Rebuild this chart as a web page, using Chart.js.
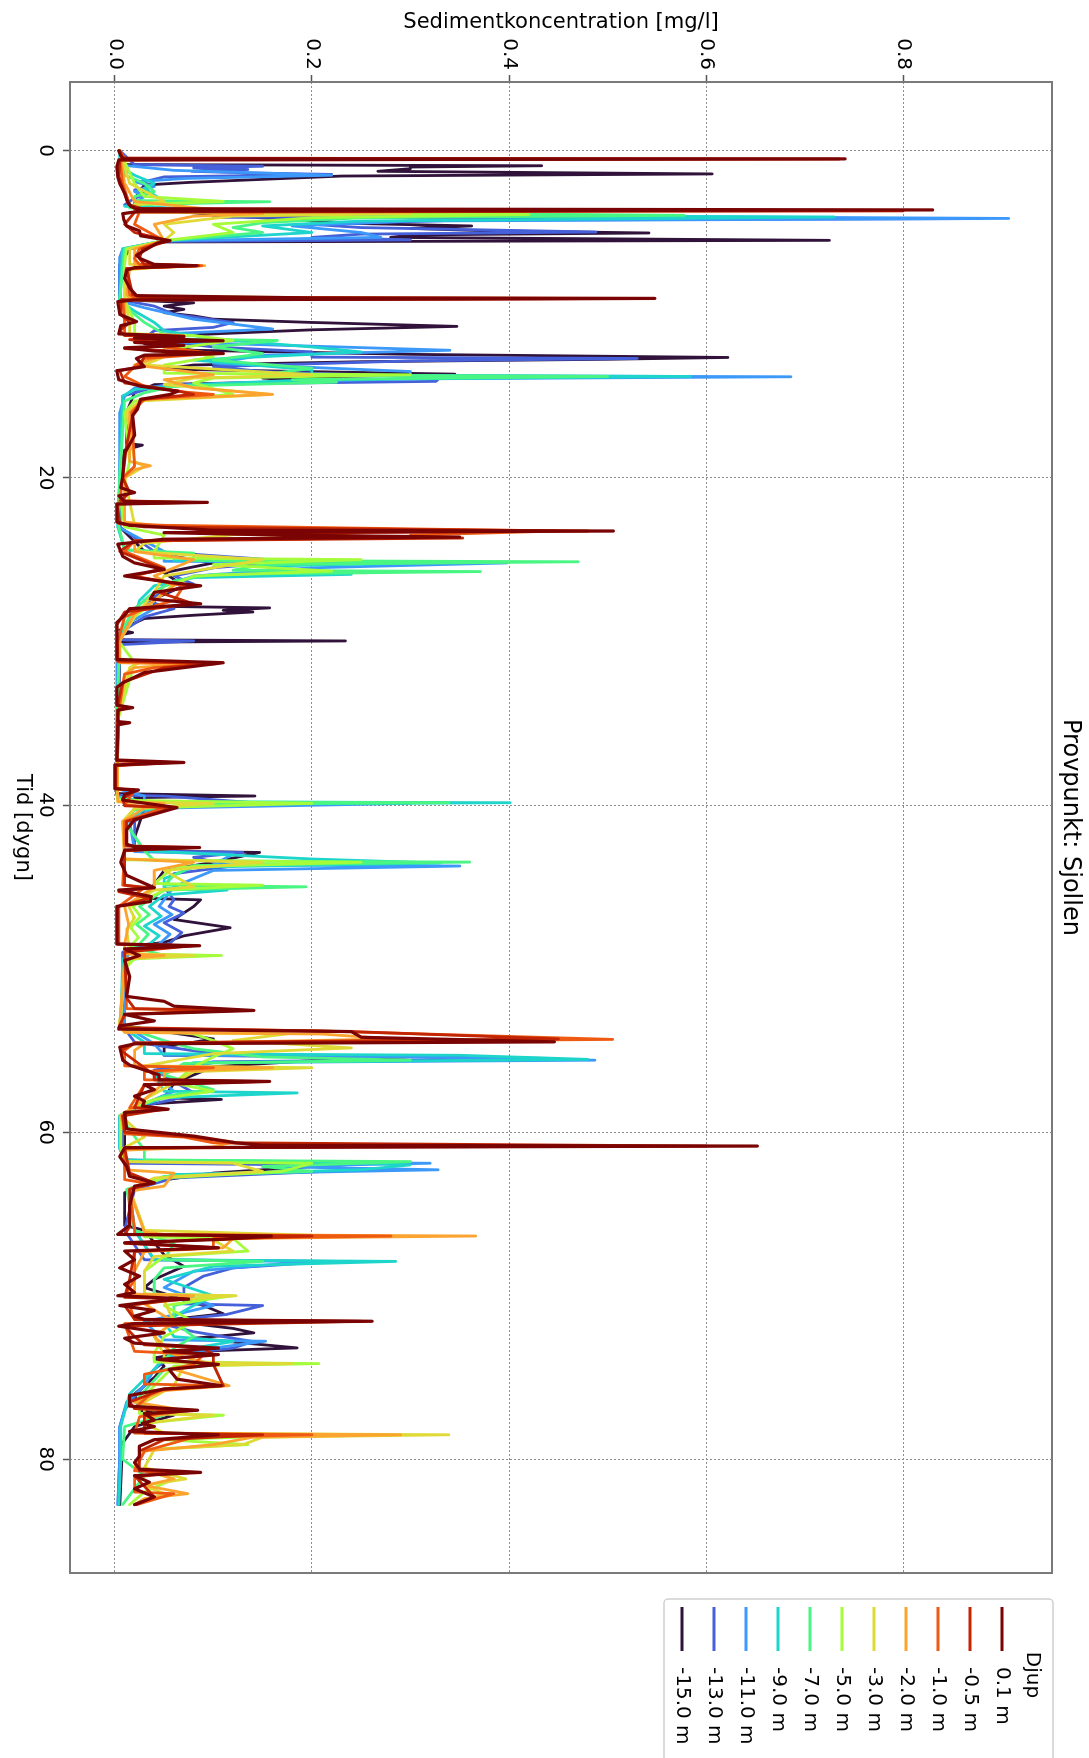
<!DOCTYPE html>
<html><head><meta charset="utf-8">
<script src="https://cdn.jsdelivr.net/npm/chart.js@4"></script>
<style>
html,body{margin:0;padding:0;background:#fff;overflow:hidden;}
#wrap{position:absolute;left:0;top:0;width:1089px;height:1758px;overflow:hidden;background:#fff;}
#rot{position:absolute;left:0;top:0;width:1758px;height:1089px;transform-origin:0 0;transform:translate(1089px,0) rotate(90deg);}
</style></head><body>
<div id="wrap"><div id="rot"><canvas id="c" width="1758" height="1089"></canvas></div></div>
<script>
const depthLabels = ['0.1 m','-0.5 m','-1.0 m','-2.0 m','-3.0 m','-5.0 m','-7.0 m','-9.0 m','-11.0 m','-13.0 m','-15.0 m'];
const seriesColors = ['#7a0403','#c12503','#ee5a12','#fca430','#dfda36','#a4fc3b','#49f683','#1dd5cb','#3c99f9','#4560d8','#30123b'];
const timeTicks = [0,20,40,60,80];
const concTicks = [0,0.2,0.4,0.6,0.8];

const d_0_1 = [[0,0.004],[0.3,0.006],[0.45,0.008],[0.5,0.741],[0.56,0.004],[1.0,0.002],[1.6,0.003],[2.0,0.005],[2.6,0.01],[3.0,0.012],[3.4,0.016],[3.55,0.022],[3.62,0.830],[3.7,0.025],[3.85,0.008],[4.2,0.009],[4.6,0.012],[4.9,0.025],[5.2,0.026],[5.5,0.056],[5.65,0.043],[6.1,0.03],[6.4,0.022],[6.6,0.026],[6.95,0.04],[7.03,0.083],[7.15,0.02],[7.3,0.012],[7.8,0.01],[8.4,0.015],[8.86,0.022],[9.0,0.2],[9.03,0.548],[9.12,0.02],[9.23,0.003],[10.0,0.005],[10.45,0.022],[10.7,0.006],[11.2,0.004],[11.35,0.07],[11.45,0.02],[11.62,0.11],[11.72,0.02],[11.9,0.07],[12.05,0.01],[12.25,0.04],[12.4,0.11],[12.5,0.03],[12.7,0.022],[13.2,0.03],[13.45,0.002],[14.0,0.004],[14.4,0.026],[14.7,0.064],[14.9,0.056],[15.2,0.026],[15.8,0.023],[16.2,0.018],[17.4,0.02],[18.5,0.01],[19.9,0.008],[20.6,0.006],[20.9,0.02],[21.1,0.004],[21.45,0.01],[21.5,0.094],[21.6,0.002],[22.7,0.002],[22.9,0.015],[23.2,0.1],[23.25,0.506],[23.35,0.05],[23.5,0.17],[23.62,0.35],[23.75,0.05],[24.05,0.003],[24.8,0.008],[25.2,0.02],[25.6,0.05],[26.0,0.01],[26.4,0.057],[26.6,0.087],[27.0,0.04],[27.4,0.036],[27.7,0.087],[28.0,0.015],[28.4,0.01],[28.85,0.002],[31.1,0.002],[31.3,0.11],[31.6,0.07],[31.9,0.03],[32.5,0.009],[32.8,0.002],[33.9,0.002],[34.05,0.018],[34.2,0.003],[34.9,0.003],[34.97,0.015],[35.1,0.003],[37.25,0.002],[37.4,0.07],[37.55,0.0],[39.0,0.0],[39.08,0.024],[39.35,0.01],[39.7,0.008],[40.16,0.063],[40.47,0.045],[40.9,0.02],[41.5,0.012],[42.4,0.012],[42.55,0.02],[42.6,0.086],[42.75,0.01],[43.5,0.006],[44.3,0.012],[45.06,0.04],[45.2,0.004],[45.6,0.037],[45.9,0.036],[46.2,0.002],[48.5,0.002],[48.6,0.086],[48.8,0.01],[49.2,0.025],[49.5,0.01],[50.5,0.015],[51.7,0.012],[52.0,0.05],[52.3,0.06],[52.56,0.141],[52.8,0.01],[53.2,0.04],[53.5,0.005],[53.7,0.004],[53.85,0.24],[54.2,0.25],[54.48,0.446],[54.6,0.02],[54.8,0.005],[55.6,0.008],[55.9,0.015],[56.5,0.045],[56.8,0.045],[56.9,0.157],[57.1,0.03],[57.4,0.04],[57.8,0.02],[58.1,0.03],[58.4,0.028],[58.6,0.054],[58.8,0.01],[59.8,0.012],[60.24,0.08],[60.65,0.123],[60.8,0.15],[60.85,0.652],[60.95,0.01],[61.5,0.005],[62.1,0.012],[62.7,0.015],[63.1,0.04],[63.3,0.02],[64.5,0.015],[65.7,0.015],[66.25,0.003],[66.35,0.159],[66.55,0.11],[66.76,0.01],[67.07,0.105],[67.27,0.01],[67.8,0.02],[68.3,0.005],[68.8,0.025],[69.3,0.01],[69.8,0.02],[70.0,0.003],[70.2,0.075],[70.3,0.045],[70.6,0.005],[70.9,0.04],[71.25,0.02],[71.45,0.03],[71.56,0.261],[71.7,0.02],[71.86,0.004],[72.27,0.05],[72.6,0.01],[72.9,0.02],[73.2,0.105],[73.4,0.05],[73.6,0.105],[73.9,0.045],[74.2,0.105],[74.5,0.055],[75.1,0.063],[75.5,0.108],[75.7,0.05],[76.1,0.015],[76.75,0.015],[77.0,0.084],[77.2,0.03],[77.6,0.04],[77.8,0.028],[78.0,0.04],[78.3,0.015],[78.5,0.105],[78.8,0.04],[79.2,0.025],[79.8,0.025],[80.2,0.02],[80.6,0.025],[80.8,0.087],[81.0,0.02],[81.4,0.035],[81.8,0.02],[82.3,0.04],[82.77,0.02]];

const d_m0_5 = [[0,0.005],[0.45,0.008],[0.51,0.735],[0.57,0.005],[1.5,0.004],[2.5,0.009],[3.3,0.014],[3.58,0.03],[3.68,0.80],[3.76,0.02],[4.5,0.01],[5.0,0.02],[5.5,0.055],[6.0,0.028],[6.6,0.025],[6.95,0.03],[7.03,0.085],[7.2,0.012],[8.8,0.018],[8.98,0.03],[9.04,0.545],[9.12,0.006],[10.0,0.006],[10.5,0.015],[11.0,0.005],[11.3,0.01],[11.4,0.07],[11.55,0.015],[11.9,0.06],[12.1,0.01],[12.4,0.11],[12.55,0.03],[13.2,0.025],[13.45,0.005],[14.2,0.01],[14.7,0.065],[14.9,0.08],[15.2,0.027],[16.2,0.018],[18,0.012],[20,0.008],[20.9,0.015],[21.4,0.006],[21.5,0.08],[21.6,0.002],[22.8,0.005],[23.0,0.03],[23.25,0.48],[23.4,0.1],[23.68,0.353],[23.85,0.02],[24.5,0.005],[25.6,0.05],[26.0,0.015],[26.6,0.08],[27.0,0.045],[27.7,0.08],[28.2,0.01],[29,0.002],[31.2,0.003],[31.35,0.105],[31.6,0.05],[32.5,0.008],[33.9,0.003],[34.05,0.015],[34.2,0.003],[37.3,0.002],[37.4,0.06],[37.6,0.001],[39.0,0.001],[39.1,0.022],[39.6,0.008],[40.05,0.01],[40.16,0.06],[41,0.012],[42.5,0.012],[42.6,0.08],[42.8,0.01],[44.9,0.01],[45.06,0.035],[45.3,0.004],[45.7,0.035],[46.2,0.003],[48.5,0.003],[48.6,0.08],[49,0.01],[51.8,0.012],[52.45,0.02],[52.56,0.13],[52.8,0.01],[53.6,0.004],[53.85,0.24],[54.3,0.45],[54.55,0.02],[55,0.006],[56.5,0.04],[56.8,0.04],[56.9,0.15],[57.1,0.03],[58.5,0.02],[58.6,0.05],[59,0.008],[60,0.01],[60.3,0.08],[60.65,0.12],[60.85,0.6],[60.95,0.01],[62.5,0.015],[63.1,0.04],[63.5,0.015],[65.8,0.015],[66.25,0.01],[66.35,0.2],[66.55,0.1],[66.8,0.01],[67.07,0.105],[67.27,0.02],[69,0.015],[70.1,0.01],[70.2,0.07],[70.6,0.01],[71.45,0.02],[71.56,0.25],[71.86,0.01],[72.5,0.02],[73.0,0.03],[73.2,0.09],[73.6,0.1],[74.2,0.1],[75.5,0.11],[75.7,0.05],[76.5,0.015],[76.9,0.02],[77.0,0.08],[77.3,0.03],[78.4,0.03],[78.5,0.15],[78.8,0.05],[79.5,0.025],[80.7,0.025],[80.8,0.08],[81.0,0.02],[82.3,0.04],[82.77,0.022]];

const d_m1_0 = [[0,0.005],[0.48,0.01],[0.52,0.12],[0.58,0.005],[2,0.008],[3.3,0.015],[3.55,0.02],[3.62,0.5],[3.72,0.025],[4.5,0.02],[5.5,0.05],[6.0,0.025],[6.6,0.02],[6.95,0.025],[7.03,0.088],[7.2,0.012],[8.8,0.015],[8.98,0.02],[9.03,0.545],[9.12,0.008],[10.5,0.01],[11.3,0.01],[11.4,0.07],[11.6,0.03],[12.0,0.05],[12.4,0.1],[12.7,0.03],[13.2,0.02],[13.8,0.01],[14.4,0.03],[14.75,0.07],[14.9,0.1],[15.2,0.03],[16,0.017],[19.3,0.02],[20,0.008],[21.4,0.005],[21.5,0.05],[21.6,0.003],[22.8,0.004],[22.9,0.05],[23.25,0.45],[23.5,0.3],[23.65,0.3],[23.85,0.02],[24.5,0.01],[25.5,0.05],[26.0,0.02],[26.6,0.07],[27.5,0.06],[28,0.03],[28.5,0.01],[30,0.003],[31.25,0.003],[31.35,0.1],[31.6,0.04],[32,0.01],[35,0.002],[37.3,0.002],[37.4,0.04],[37.6,0.001],[39.0,0.001],[39.1,0.02],[40.0,0.01],[40.16,0.05],[41,0.01],[42.5,0.01],[42.6,0.06],[42.8,0.01],[44.9,0.008],[45.06,0.03],[46.2,0.004],[48.5,0.004],[48.6,0.06],[49,0.01],[52.45,0.012],[52.56,0.1],[52.8,0.01],[53.65,0.005],[53.8,0.2],[54.33,0.505],[54.55,0.02],[55,0.01],[55.95,0.01],[56.06,0.1],[56.3,0.03],[56.8,0.03],[56.9,0.12],[57.1,0.03],[58.5,0.015],[58.6,0.04],[59,0.008],[60.1,0.01],[60.3,0.07],[60.65,0.1],[60.85,0.3],[61.0,0.01],[62.9,0.01],[63.1,0.03],[63.5,0.015],[66.0,0.02],[66.25,0.02],[66.35,0.28],[66.5,0.1],[67.07,0.1],[67.3,0.02],[69,0.02],[70.0,0.01],[70.2,0.06],[70.6,0.015],[71.45,0.02],[71.56,0.15],[71.7,0.01],[73.4,0.02],[73.6,0.09],[74.2,0.08],[74.8,0.03],[75.4,0.03],[75.5,0.11],[75.8,0.04],[76.9,0.02],[77.0,0.06],[77.4,0.025],[78.4,0.02],[78.5,0.2],[78.65,0.08],[79.5,0.03],[80.7,0.02],[80.8,0.06],[81.1,0.02],[82.0,0.02],[82.1,0.06],[82.77,0.022]];

const d_m2_0 = [[0,0.005],[2,0.01],[3.1,0.02],[3.6,0.1],[3.85,0.15],[4.0,0.08],[4.5,0.04],[5.5,0.05],[6,0.02],[6.95,0.02],[7.03,0.091],[7.2,0.015],[8.8,0.012],[8.98,0.015],[9.03,0.4],[9.12,0.01],[10.5,0.01],[11.2,0.01],[11.3,0.07],[11.6,0.05],[12.3,0.07],[12.7,0.04],[13.1,0.02],[13.7,0.1],[14.0,0.05],[14.5,0.08],[14.9,0.16],[15.2,0.03],[16,0.015],[19.0,0.015],[19.26,0.036],[19.5,0.02],[20,0.01],[22.7,0.01],[22.9,0.04],[23.3,0.25],[23.6,0.2],[23.9,0.02],[24.5,0.02],[25,0.08],[25.5,0.06],[26,0.04],[26.6,0.06],[27.5,0.04],[28.3,0.02],[30,0.005],[31.3,0.005],[31.4,0.07],[31.6,0.02],[32,0.01],[35,0.002],[39.8,0.003],[39.9,0.05],[40.2,0.03],[41,0.008],[43.3,0.01],[43.5,0.08],[44,0.04],[45,0.04],[46.2,0.01],[47.3,0.014],[48.5,0.01],[49.1,0.01],[49.2,0.05],[49.4,0.01],[53.5,0.005],[53.9,0.01],[54.0,0.21],[54.3,0.28],[54.6,0.03],[55,0.02],[55.95,0.02],[56.06,0.16],[56.3,0.05],[57,0.05],[58,0.03],[59,0.006],[60,0.01],[60.3,0.08],[60.6,0.12],[60.9,0.1],[61.1,0.01],[62.3,0.01],[62.5,0.06],[63.3,0.05],[63.6,0.015],[66.1,0.03],[66.25,0.05],[66.35,0.366],[66.5,0.12],[67.07,0.11],[67.3,0.03],[68.5,0.02],[69.9,0.02],[70,0.08],[70.5,0.03],[71.6,0.06],[72.5,0.04],[73.6,0.06],[74.2,0.1],[74.5,0.06],[75.5,0.116],[75.8,0.05],[76.5,0.02],[77,0.07],[77.5,0.03],[78.4,0.03],[78.5,0.29],[78.65,0.14],[79.1,0.1],[79.5,0.03],[80.5,0.02],[81.2,0.06],[81.6,0.03],[82.1,0.074],[82.4,0.03],[82.77,0.02]];

const d_m3_0 = [[0,0.005],[2,0.015],[3.1,0.05],[3.3,0.02],[3.75,0.02],[3.85,0.3],[4.0,0.12],[4.5,0.05],[5,0.06],[5.5,0.05],[6,0.015],[6.95,0.015],[7.03,0.06],[7.3,0.01],[8.9,0.01],[9.03,0.3],[9.12,0.01],[10.5,0.015],[11.2,0.015],[11.3,0.06],[12,0.05],[12.6,0.05],[13.1,0.03],[13.7,0.2],[13.9,0.08],[14.3,0.05],[14.9,0.158],[15.3,0.025],[16,0.012],[19,0.02],[19.3,0.03],[20,0.01],[22.9,0.02],[23.3,0.15],[23.6,0.1],[24,0.03],[24.5,0.02],[25,0.15],[25.5,0.1],[26,0.05],[27,0.04],[28.5,0.02],[30,0.004],[31.2,0.004],[31.3,0.025],[31.6,0.015],[35,0.002],[39.8,0.003],[39.9,0.1],[40.2,0.02],[41,0.008],[43.3,0.01],[43.5,0.15],[44,0.05],[45,0.08],[45.2,0.04],[46.2,0.014],[46.9,0.02],[47.6,0.012],[48.5,0.014],[49.1,0.015],[49.2,0.08],[49.4,0.015],[50,0.01],[53.5,0.005],[53.9,0.01],[54,0.174],[54.4,0.12],[54.85,0.24],[55.2,0.1],[55.95,0.03],[56.06,0.2],[56.3,0.08],[57,0.06],[58,0.03],[59,0.006],[60.3,0.03],[61,0.008],[61.8,0.01],[61.9,0.12],[62.4,0.15],[62.8,0.04],[63.5,0.015],[66.0,0.03],[66.3,0.2],[66.6,0.1],[67.27,0.12],[67.6,0.04],[68.5,0.03],[69.9,0.03],[70,0.123],[70.3,0.05],[71.6,0.06],[72.5,0.04],[73.6,0.05],[74.05,0.05],[74.15,0.18],[74.3,0.07],[75.5,0.06],[76.5,0.03],[77.2,0.03],[77.3,0.1],[77.8,0.03],[78.4,0.05],[78.5,0.339],[78.65,0.15],[79.1,0.13],[79.4,0.04],[80.5,0.03],[81.2,0.072],[81.6,0.03],[82.1,0.05],[82.77,0.02]];

const d_m5_0 = [[0,0.005],[2,0.02],[2.8,0.03],[3.1,0.11],[3.3,0.02],[3.7,0.02],[3.8,0.15],[3.9,0.42],[4.1,0.2],[4.5,0.1],[5,0.12],[5.5,0.05],[6,0.012],[7,0.01],[9.1,0.01],[10.5,0.02],[11.2,0.02],[11.3,0.08],[11.6,0.12],[12.1,0.06],[12.6,0.1],[13.1,0.05],[13.6,0.05],[13.7,0.3],[13.9,0.1],[14.2,0.08],[14.9,0.12],[15.3,0.02],[16,0.01],[19,0.015],[19.8,0.012],[21,0.005],[23,0.01],[23.5,0.05],[24.5,0.04],[24.9,0.04],[25,0.25],[25.3,0.1],[25.7,0.22],[26,0.08],[26.5,0.06],[27.5,0.04],[28.5,0.02],[30,0.004],[31.3,0.02],[35,0.002],[39.7,0.003],[39.9,0.2],[40.2,0.02],[41,0.01],[43.35,0.01],[43.5,0.25],[43.8,0.06],[44.8,0.04],[44.9,0.15],[45.2,0.05],[46.2,0.018],[46.8,0.026],[47.5,0.016],[48.1,0.024],[48.5,0.018],[49.1,0.02],[49.2,0.108],[49.4,0.02],[50,0.01],[53.5,0.005],[54,0.08],[54.4,0.1],[54.9,0.12],[55.4,0.1],[56,0.08],[57,0.06],[57.5,0.1],[58,0.04],[58.5,0.02],[59,0.006],[61,0.006],[61.8,0.01],[61.9,0.2],[62.4,0.17],[62.8,0.05],[63.5,0.015],[66,0.03],[66.4,0.03],[66.5,0.12],[67.27,0.135],[67.6,0.05],[68.5,0.03],[69.9,0.03],[70,0.12],[70.6,0.05],[71.6,0.08],[72.5,0.05],[73.5,0.04],[74.05,0.04],[74.15,0.207],[74.3,0.06],[75.5,0.04],[76.5,0.025],[77.2,0.025],[77.3,0.11],[77.8,0.03],[78.4,0.03],[78.5,0.2],[78.8,0.05],[79.1,0.135],[79.4,0.03],[80.5,0.02],[81.2,0.06],[82,0.03],[82.77,0.015]];

const d_m7_0 = [[0,0.005],[1.5,0.01],[2,0.03],[2.5,0.04],[2.8,0.02],[3.05,0.02],[3.12,0.157],[3.3,0.02],[3.5,0.015],[3.75,0.15],[3.95,0.578],[4.1,0.25],[4.4,0.15],[4.7,0.12],[5,0.15],[5.5,0.05],[6,0.01],[9.1,0.005],[9.5,0.01],[10.5,0.03],[11.2,0.05],[11.5,0.05],[11.6,0.165],[12,0.1],[12.4,0.15],[12.8,0.1],[13.3,0.2],[13.7,0.15],[13.8,0.5],[14,0.18],[14.15,0.225],[14.4,0.06],[14.8,0.03],[15.3,0.01],[20,0.005],[23,0.004],[24.4,0.01],[24.6,0.08],[25.05,0.08],[25.13,0.47],[25.3,0.15],[25.65,0.12],[25.73,0.371],[25.9,0.1],[26.3,0.06],[27,0.04],[28,0.02],[29.5,0.005],[35,0.002],[39.6,0.003],[39.8,0.03],[39.86,0.339],[39.95,0.08],[40.3,0.02],[41,0.01],[42.8,0.03],[43.4,0.04],[43.49,0.36],[43.7,0.08],[44.3,0.06],[44.9,0.05],[45,0.194],[45.2,0.05],[46.2,0.025],[46.7,0.035],[47.3,0.022],[47.9,0.034],[48.5,0.025],[48.6,0.015],[49.2,0.05],[49.5,0.01],[53.5,0.005],[54.4,0.05],[54.9,0.08],[55.4,0.15],[55.6,0.3],[55.8,0.07],[56.5,0.05],[57.4,0.1],[57.8,0.05],[58.5,0.02],[59,0.005],[61.1,0.03],[61.7,0.03],[61.8,0.3],[62.1,0.15],[62.4,0.2],[62.7,0.05],[63.5,0.012],[66,0.02],[66.8,0.06],[67.8,0.05],[67.9,0.15],[68.3,0.05],[69,0.04],[69.9,0.04],[70,0.11],[70.6,0.06],[71.6,0.06],[72.5,0.08],[73.2,0.06],[74.0,0.05],[74.1,0.12],[74.5,0.05],[75.5,0.035],[76.5,0.02],[77.3,0.05],[78,0.01],[80,0.008],[81,0.03],[82.77,0.008]];

const d_m9_0 = [[0,0.005],[1,0.005],[1.5,0.02],[2,0.04],[2.3,0.03],[2.7,0.04],[3.1,0.05],[3.4,0.01],[3.8,0.2],[3.95,0.2],[4.05,0.73],[4.3,0.25],[4.6,0.15],[5,0.2],[5.5,0.05],[6,0.008],[9.2,0.005],[9.8,0.02],[10.5,0.04],[11,0.05],[11.5,0.1],[12,0.2],[12.3,0.25],[12.8,0.08],[13.4,0.2],[13.72,0.2],[13.8,0.584],[14,0.2],[14.3,0.08],[14.6,0.02],[15,0.008],[20,0.005],[23,0.003],[24.4,0.01],[24.6,0.06],[25.05,0.06],[25.15,0.35],[25.4,0.15],[25.9,0.24],[26.1,0.08],[26.6,0.04],[27.5,0.025],[28.5,0.02],[29.5,0.005],[35,0.002],[39.5,0.003],[39.8,0.03],[39.86,0.401],[39.95,0.1],[40.3,0.03],[41,0.01],[42.8,0.03],[43.3,0.2],[43.55,0.33],[43.8,0.08],[44.5,0.05],[45.1,0.05],[45.2,0.114],[45.5,0.05],[46.2,0.035],[46.8,0.047],[47.4,0.03],[48.0,0.045],[48.5,0.035],[48.6,0.015],[49.5,0.008],[53.5,0.006],[54.5,0.03],[55.2,0.03],[55.3,0.35],[55.55,0.48],[55.75,0.08],[56.5,0.04],[57.5,0.05],[57.6,0.185],[57.9,0.05],[58.5,0.02],[59,0.005],[61,0.005],[61.7,0.01],[61.8,0.2],[62,0.3],[62.3,0.25],[62.6,0.06],[63.5,0.015],[66,0.02],[67.8,0.04],[67.9,0.285],[68.2,0.1],[69,0.05],[70,0.1],[70.6,0.08],[71.6,0.05],[72.5,0.06],[72.8,0.12],[73.2,0.08],[73.8,0.05],[74.5,0.04],[76,0.015],[78,0.006],[80,0.006],[82.77,0.004]];

const d_m11_0 = [[0,0.005],[0.9,0.01],[1.2,0.06],[1.5,0.22],[1.7,0.07],[1.9,0.02],[2.2,0.04],[2.5,0.02],[2.8,0.03],[3.2,0.02],[3.7,0.02],[3.95,0.3],[4.14,0.907],[4.3,0.3],[4.6,0.18],[5,0.25],[5.3,0.27],[5.5,0.05],[6,0.008],[6.5,0.005],[9.2,0.005],[9.6,0.03],[10.3,0.08],[10.9,0.16],[11.2,0.05],[11.7,0.06],[12.2,0.34],[12.5,0.15],[13,0.1],[13.5,0.3],[13.75,0.3],[13.82,0.686],[13.95,0.3],[14.2,0.12],[14.5,0.02],[15,0.01],[16,0.005],[20,0.005],[23,0.003],[24.5,0.05],[25.1,0.05],[25.2,0.398],[25.5,0.2],[26,0.08],[26.6,0.05],[27.5,0.03],[28,0.04],[29,0.01],[30,0.002],[39,0.002],[39.45,0.03],[39.82,0.03],[39.9,0.3],[40.2,0.04],[41,0.015],[42.85,0.02],[43,0.12],[43.65,0.1],[43.73,0.35],[44,0.1],[45,0.06],[46.2,0.045],[46.7,0.058],[47.3,0.04],[47.9,0.056],[48.5,0.045],[48.6,0.02],[49.5,0.01],[53.5,0.01],[54.6,0.04],[55.3,0.05],[55.4,0.3],[55.6,0.487],[55.75,0.1],[56.5,0.04],[57.5,0.06],[58.5,0.02],[59,0.005],[61,0.005],[61.8,0.01],[61.9,0.32],[62.1,0.15],[62.3,0.328],[62.6,0.06],[63.5,0.015],[66,0.02],[67.8,0.04],[67.9,0.2],[68.5,0.08],[69.5,0.05],[70.6,0.1],[71.6,0.03],[72.7,0.05],[72.78,0.153],[73.2,0.1],[73.8,0.05],[74.5,0.04],[75.5,0.03],[76.5,0.012],[78,0.005],[80,0.005],[82.77,0.003]];

const d_m13_0 = [[0,0.005],[0.85,0.02],[0.95,0.15],[1.05,0.08],[1.15,0.135],[1.26,0.078],[1.35,0.13],[1.45,0.22],[1.6,0.05],[1.9,0.03],[2.2,0.035],[2.4,0.02],[2.6,0.035],[2.9,0.02],[3.3,0.01],[3.8,0.1],[4.07,0.1],[4.15,0.88],[4.25,0.35],[4.5,0.2],[4.7,0.25],[4.97,0.488],[5.1,0.25],[5.3,0.2],[5.45,0.3],[5.55,0.05],[6,0.01],[7,0.005],[9.1,0.005],[9.5,0.04],[10,0.06],[10.5,0.12],[10.8,0.1],[11,0.04],[11.5,0.03],[12,0.1],[12.3,0.2],[12.62,0.2],[12.7,0.53],[12.85,0.3],[13.2,0.1],[13.5,0.15],[13.85,0.33],[14.1,0.326],[14.3,0.05],[14.8,0.02],[15,0.008],[20,0.005],[23,0.005],[24.5,0.04],[25.1,0.18],[25.5,0.1],[26,0.06],[26.5,0.08],[27,0.05],[27.5,0.03],[28,0.06],[28.5,0.03],[29.5,0.005],[29.9,0.005],[29.97,0.08],[30.2,0.005],[39,0.002],[39.4,0.002],[39.45,0.05],[39.9,0.15],[40.2,0.04],[41,0.02],[42.8,0.02],[42.9,0.13],[43.2,0.08],[43.73,0.12],[44.2,0.06],[45,0.05],[45.8,0.06],[46.2,0.055],[46.6,0.07],[47.2,0.05],[47.8,0.068],[48.5,0.055],[48.6,0.02],[49,0.008],[53.5,0.008],[54.5,0.02],[55.2,0.1],[55.5,0.45],[55.7,0.1],[56.2,0.04],[57.6,0.08],[58,0.06],[58.5,0.02],[59,0.008],[61.5,0.008],[61.9,0.01],[62,0.2],[62.3,0.25],[62.8,0.06],[63.5,0.02],[66,0.01],[67.8,0.03],[67.9,0.22],[68.3,0.12],[68.8,0.09],[69.5,0.07],[70.5,0.07],[70.6,0.15],[71.15,0.113],[71.6,0.04],[72.2,0.08],[72.8,0.14],[73.2,0.12],[73.6,0.06],[74.5,0.04],[75.5,0.03],[76.5,0.015],[77,0.01],[78,0.005],[80,0.005],[82.77,0.003]];

const d_m15_0 = [[0,0.005],[0.85,0.01],[0.92,0.433],[1.0,0.3],[1.1,0.3],[1.26,0.267],[1.42,0.606],[1.55,0.23],[1.94,0.075],[2.1,0.03],[2.5,0.025],[3.0,0.02],[3.5,0.02],[4.0,0.12],[4.45,0.246],[4.6,0.362],[4.75,0.3],[4.9,0.38],[5.03,0.542],[5.15,0.3],[5.3,0.28],[5.48,0.725],[5.58,0.05],[6,0.015],[7,0.005],[9.1,0.005],[9.3,0.08],[9.5,0.05],[9.7,0.07],[9.9,0.05],[10.1,0.08],[10.3,0.1],[10.5,0.2],[10.74,0.347],[10.95,0.2],[11.3,0.06],[11.8,0.03],[12.2,0.08],[12.45,0.3],[12.64,0.622],[12.75,0.5],[12.9,0.25],[13.1,0.08],[13.35,0.05],[13.66,0.345],[13.9,0.15],[14.1,0.2],[14.3,0.04],[14.8,0.02],[16,0.012],[17.9,0.012],[18,0.028],[18.3,0.01],[20,0.005],[23,0.005],[24.5,0.03],[25.2,0.1],[25.8,0.05],[26.6,0.07],[27.4,0.04],[27.85,0.04],[27.95,0.157],[28.1,0.11],[28.2,0.14],[28.4,0.08],[28.6,0.03],[29.3,0.005],[29.46,0.018],[29.6,0.005],[29.9,0.005],[29.97,0.234],[30.05,0.005],[39.3,0.002],[39.45,0.142],[39.55,0.02],[39.9,0.04],[40.2,0.03],[42,0.02],[42.8,0.02],[42.9,0.147],[43.5,0.1],[44,0.05],[45.7,0.03],[45.8,0.087],[46.2,0.08],[47,0.06],[47.5,0.117],[48,0.07],[48.4,0.05],[48.6,0.02],[49,0.01],[53.5,0.01],[54.3,0.1],[54.8,0.05],[55.3,0.05],[55.4,0.296],[55.55,0.22],[56,0.1],[57,0.06],[57.9,0.05],[58,0.108],[58.3,0.03],[58.8,0.01],[61.7,0.01],[62,0.225],[62.5,0.1],[63,0.04],[63.7,0.01],[65.7,0.01],[66,0.03],[67.5,0.05],[68.2,0.07],[69,0.04],[69.5,0.03],[70.6,0.09],[71.1,0.11],[71.5,0.05],[72,0.12],[72.27,0.141],[72.6,0.08],[73.19,0.185],[73.4,0.08],[73.8,0.04],[74.3,0.05],[75,0.04],[76,0.02],[77,0.025],[77.3,0.06],[78,0.02],[79,0.008],[82.77,0.005]];

const allSeries = [d_0_1,d_m0_5,d_m1_0,d_m2_0,d_m3_0,d_m5_0,d_m7_0,d_m9_0,d_m11_0,d_m13_0,d_m15_0];

const FONT = '"DejaVu Sans", Verdana, sans-serif';

const framePlugin = {
  id: 'frame',
  afterDatasetsDraw(chart) {
    const {ctx, chartArea: a} = chart;
    ctx.save();
    ctx.strokeStyle = '#7a7a7a';
    ctx.lineWidth = 2;
    ctx.strokeRect(a.left, a.top, a.right - a.left, a.bottom - a.top);
    ctx.restore();
  }
};

const legendPlugin = {
  id: 'mplLegend',
  afterDraw(chart) {
    const {ctx, chartArea: a} = chart;
    const x0 = a.right + 26, y0 = a.top - 1, w = 175, h = 389, r = 4;
    ctx.save();
    ctx.beginPath();
    ctx.moveTo(x0 + r, y0);
    ctx.lineTo(x0 + w - r, y0);
    ctx.arcTo(x0 + w, y0, x0 + w, y0 + r, r);
    ctx.lineTo(x0 + w, y0 + h - r);
    ctx.arcTo(x0 + w, y0 + h, x0 + w - r, y0 + h, r);
    ctx.lineTo(x0 + r, y0 + h);
    ctx.arcTo(x0, y0 + h, x0, y0 + h - r, r);
    ctx.lineTo(x0, y0 + r);
    ctx.arcTo(x0, y0, x0 + r, y0, r);
    ctx.closePath();
    ctx.fillStyle = 'rgba(255,255,255,0.8)';
    ctx.fill();
    ctx.strokeStyle = '#d0d0d0';
    ctx.lineWidth = 1.5;
    ctx.stroke();
    ctx.fillStyle = '#000';
    ctx.font = '20px ' + FONT;
    ctx.textBaseline = 'middle';
    ctx.textAlign = 'center';
    ctx.fillText('Djup', x0 + 76, y0 + 21);
    ctx.textAlign = 'left';
    chart.data.datasets.forEach((ds, i) => {
      const y = y0 + 51 + 32 * i;
      ctx.strokeStyle = ds.borderColor;
      ctx.lineWidth = 2.8;
      ctx.beginPath();
      ctx.moveTo(x0 + 8, y);
      ctx.lineTo(x0 + 52, y);
      ctx.stroke();
      ctx.fillStyle = '#000';
      ctx.fillText(ds.label, x0 + 68, y);
    });
    ctx.restore();
  }
};

const datasets = allSeries.map((d, i) => ({
  label: depthLabels[i],
  data: d,
  borderColor: seriesColors[i],
  backgroundColor: seriesColors[i],
  borderWidth: i === 0 ? 3.2 : 2.8,
  pointRadius: 0,
  tension: 0,
  fill: false,
  borderJoinStyle: 'round',
  borderCapStyle: 'round'
}));

new Chart(document.getElementById('c'), {
  type: 'line',
  data: { datasets },
  plugins: [framePlugin, legendPlugin],
  options: {
    responsive: false,
    animation: false,
    devicePixelRatio: 1,
    events: [],
    layout: { padding: { left: 0, right: 185, top: 0, bottom: 0 } },
    plugins: {
      legend: { display: false },
      tooltip: { enabled: false },
      title: {
        display: true, text: 'Provpunkt: Sjollen', fullSize: false,
        font: { family: FONT, size: 24, weight: 'normal' }, color: '#000',
        padding: { top: 4, bottom: 4.2 }
      }
    },
    scales: {
      x: {
        type: 'linear', min: -4.2, max: 86.95,
        afterBuildTicks: s => { s.ticks = timeTicks.map(v => ({ value: v })); },
        afterFit: s => { s.height = 70; },
        ticks: { font: { family: FONT, size: 20 }, color: '#000', padding: 6, maxRotation: 0, autoSkip: false, callback: v => String(v) },
        grid: { color: '#8c8c8c', lineWidth: 1, tickLength: 7, tickColor: '#555', tickWidth: 1.5 },
        border: { display: false, dash: [2, 2] },
        title: { display: true, text: 'Tid [dygn]', font: { family: FONT, size: 21 }, color: '#000', padding: { top: 0, bottom: 9.4 } }
      },
      y: {
        type: 'linear', min: -0.0455, max: 0.951,
        afterBuildTicks: s => { s.ticks = concTicks.map(v => ({ value: v })); },
        afterFit: s => { s.width = 82; },
        ticks: { font: { family: FONT, size: 20 }, color: '#000', padding: 5, autoSkip: false, callback: v => Number(v).toFixed(1) },
        grid: { color: '#8c8c8c', lineWidth: 1, tickLength: 7, tickColor: '#555', tickWidth: 1.5 },
        border: { display: false, dash: [2, 2] },
        title: { display: true, text: 'Sedimentkoncentration [mg/l]', font: { family: FONT, size: 21 }, color: '#000', padding: { top: 10.2, bottom: 0 } }
      }
    }
  }
});
</script>
</body></html>
